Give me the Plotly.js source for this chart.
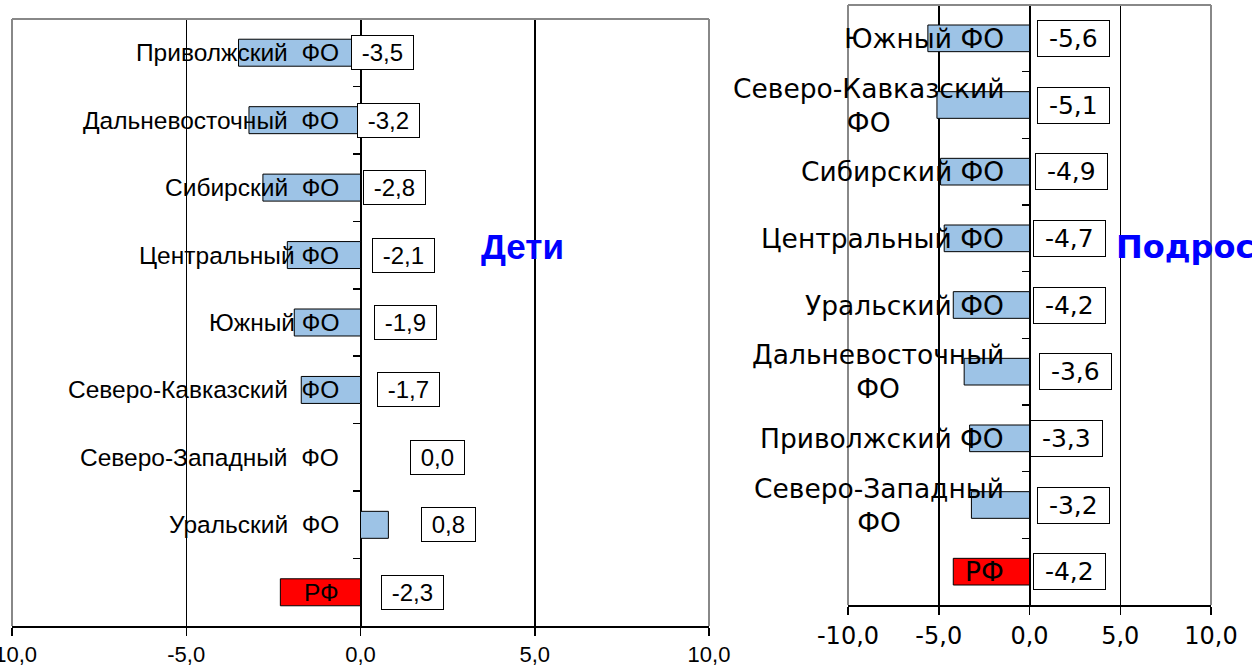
<!DOCTYPE html>
<html>
<head>
<meta charset="utf-8">
<script src="https://cdn.plot.ly/plotly-3.0.1.min.js"></script>
<style>html,body{margin:0;padding:0;background:#fff;overflow:hidden}</style>
</head>
<body>
<div id="chart" style="width:1252px;height:667px"></div>
<script>
// ---------- data ----------
const kidsTitle = 'Дети';
const teenTitle = 'Подростки';

const kidsRegions = ['Приволжский ФО','Дальневосточный ФО','Сибирский ФО','Центральный ФО','Южный ФО','Северо-Кавказский ФО','Северо-Западный ФО','Уральский ФО','РФ'];
const kidsLabels  = ['Приволжский\u00a0 ФО','Дальневосточный\u00a0 ФО','Сибирский\u00a0 ФО','Центральный ФО','Южный ФО','Северо-Кавказский\u00a0 ФО','Северо-Западный\u00a0 ФО','Уральский\u00a0 ФО','РФ'];
const kidsValues  = [-3.5,-3.2,-2.8,-2.1,-1.9,-1.7,0.0,0.8,-2.3];

const teenRegions = ['Южный ФО','Северо-Кавказский ФО','Сибирский ФО','Центральный ФО','Уральский ФО','Дальневосточный ФО','Приволжский ФО','Северо-Западный ФО','РФ'];
const teenLabels  = ['Южный ФО','Северо-Кавказский<br>ФО','Сибирский ФО','Центральный ФО','Уральский ФО','Дальневосточный<br>ФО','Приволжский ФО','Северо-Западный<br>ФО','РФ'];
const teenValues  = [-5.6,-5.1,-4.9,-4.7,-4.2,-3.6,-3.3,-3.2,-4.2];

const xTickVals   = [-10,-5,0,5,10];
const xTickLabels = ['-10,0','-5,0','0,0','5,0','10,0'];

// ---------- layout helpers (pixel nudges of the value boxes) ----------
const kidsBoxShift = [-10,-4,2,11,13,16,49,60,20];
const teenBoxShift = [7,7,5,3,3,9,0,7,3];

const W = 1252, H = 667;
const xRange = [-10, 10];
const kidsX = [12/W, 709/W], kidsY = [(H-626)/H, (H-19)/H];
const teenX = [848/W, 1211/W], teenY = [(H-605)/H, (H-5)/H];
const zeroFrac = (0 - xRange[0])/(xRange[1]-xRange[0]);

const BLUE = '#9dc3e6', RED = '#ff0000';
const fmt = v => v.toFixed(1).replace('.', ',');
const colorsFor = cats => cats.map(c => c === 'РФ' ? RED : BLUE);

const LEFTFONT = 'Liberation Sans, Arial, sans-serif';
const RIGHTFONT = 'DejaVu Sans, Verdana, sans-serif';

const traces = [
  {type:'bar', orientation:'h', x:kidsValues, y:kidsRegions, xaxis:'x', yaxis:'y',
   marker:{color:colorsFor(kidsRegions), line:{color:'#000', width:1}}, hoverinfo:'none'},
  {type:'bar', orientation:'h', x:teenValues, y:teenRegions, xaxis:'x2', yaxis:'y2',
   marker:{color:colorsFor(teenRegions), line:{color:'#000', width:1}}, hoverinfo:'none'}
];

function xAxis(domain, yref, font, size){
  return {domain:domain, anchor:yref, range:xRange, tickmode:'array', tickvals:xTickVals, ticktext:xTickLabels,
    showgrid:true, gridcolor:'#000', gridwidth:1.5, zeroline:true, zerolinecolor:'#000', zerolinewidth:2,
    showline:true, linecolor:'#000', linewidth:2, ticks:'outside', ticklen:8, tickwidth:1.5, tickcolor:'#000',
    ticklabeloverflow:'allow',
    tickfont:{family:font, size:size, color:'#000'}, fixedrange:true};
}
function yAxis(domain, xdom, cats){
  return {domain:domain, anchor:'free', position: xdom[0] + (xdom[1]-xdom[0])*zeroFrac,
    type:'category', categoryorder:'array', categoryarray:cats, autorange:'reversed',
    ticks:'outside', tickson:'boundaries', ticklen:8, tickwidth:1.5, tickcolor:'#000',
    showticklabels:false, showgrid:false, zeroline:false, showline:false, fixedrange:true};
}

const annotations = [];
function addPanel(cats, labels, values, shifts, xr, yr, font, labSize, valSize, labShift){
  cats.forEach((c, i) => {
    annotations.push({xref:xr, yref:yr, x:0, y:c, xanchor:'right', yanchor:'middle', xshift:labShift,
      text:labels[i], showarrow:false, align:'center', font:{family:font, size:labSize, color:'#000'}});
    annotations.push({xref:xr, yref:yr, x:0, y:c, xanchor:'left', yanchor:'middle', xshift:shifts[i],
      text:'\u00a0' + fmt(values[i]) + '\u00a0', showarrow:false, bgcolor:'#fff', bordercolor:'#000',
      borderwidth:1, borderpad:3, font:{family:font, size:valSize, color:'#000'}});
  });
}
addPanel(kidsRegions, kidsLabels, kidsValues, kidsBoxShift, 'x', 'y', LEFTFONT, 24.5, 24, -20);
addPanel(teenRegions, teenLabels, teenValues, teenBoxShift, 'x2', 'y2', RIGHTFONT, 26.5, 25, -24);

annotations.push({xref:'paper', yref:'paper', x:522/W, y:1-246/H, xanchor:'center', yanchor:'middle',
  text:'<b>'+kidsTitle+'</b>', showarrow:false, font:{family:LEFTFONT, size:35, color:'#0000ff'}});
annotations.push({xref:'paper', yref:'paper', x:1114/W, y:1-247/H, xanchor:'left', yanchor:'middle',
  text:'<b>'+teenTitle+'</b>', showarrow:false, font:{family:RIGHTFONT, size:32, color:'#0000ff'}});

function borderShapes(xr, yr){
  const ln = {color:'#888', width:2};
  return [
    {type:'line', xref:xr, yref:yr, x0:0, x1:0, y0:0, y1:1, line:ln, layer:'above'},
    {type:'line', xref:xr, yref:yr, x0:0, x1:1, y0:1, y1:1, line:ln, layer:'above'},
    {type:'line', xref:xr, yref:yr, x0:1, x1:1, y0:0, y1:1, line:ln, layer:'above'}
  ];
}

const layout = {
  width:W, height:H, margin:{l:0, r:0, t:0, b:0}, paper_bgcolor:'#fff', plot_bgcolor:'#fff',
  showlegend:false, bargap:0.6,
  xaxis: xAxis(kidsX, 'y', LEFTFONT, 22),
  yaxis: yAxis(kidsY, kidsX, kidsRegions),
  xaxis2: xAxis(teenX, 'y2', RIGHTFONT, 24),
  yaxis2: yAxis(teenY, teenX, teenRegions),
  annotations: annotations,
  shapes: borderShapes('x domain','y domain').concat(borderShapes('x2 domain','y2 domain'))
};

Plotly.newPlot('chart', traces, layout, {displayModeBar:false, staticPlot:true});
</script>
</body>
</html>
